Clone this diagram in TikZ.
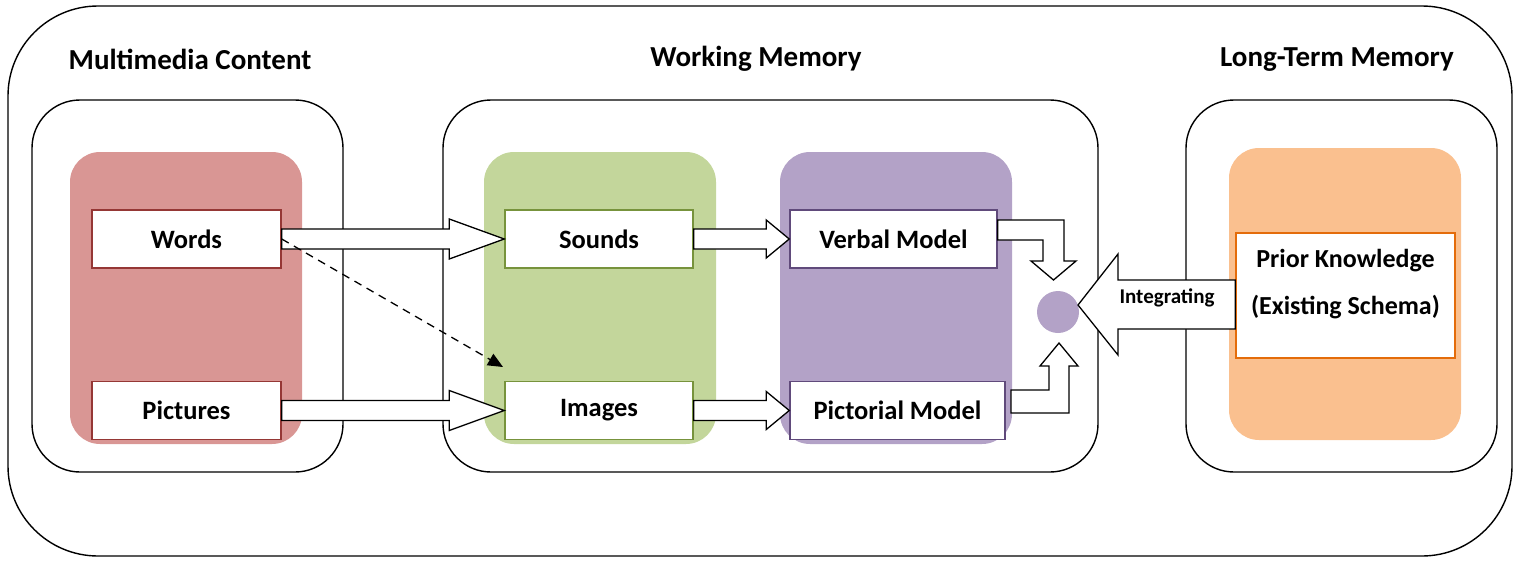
\documentclass[tikz,border=0pt]{standalone}
\usepackage{fontspec}
\setmainfont{Carlito}
\usetikzlibrary{calc,arrows.meta}
\definecolor{redfill}{HTML}{D99694}
\definecolor{redline}{HTML}{953735}
\definecolor{greenfill}{HTML}{C3D69B}
\definecolor{greenline}{HTML}{77933C}
\definecolor{purplefill}{HTML}{B3A2C7}
\definecolor{purpleline}{HTML}{604A7B}
\definecolor{orangefill}{HTML}{FAC08F}
\definecolor{orangeline}{HTML}{E46C0A}
\tikzset{
  container/.style={draw=black, line width=1.4pt, rounded corners=48pt, inner sep=0pt},
  panel/.style={draw=none, rounded corners=30pt, inner sep=0pt, minimum width=232pt, minimum height=292pt},
  wbox/.style={draw, fill=white, line width=1.5pt, inner sep=0pt, minimum height=58pt,
    font=\bfseries\fontsize{26.5}{30}\selectfont},
  title/.style={font=\bfseries\fontsize{29}{34}\selectfont, inner sep=0pt},
  lbl/.style={font=\bfseries\fontsize{26}{30}\selectfont, inner sep=0pt},
  blockarrow/.style={draw=black, fill=white, line width=1.3pt, line join=miter},
}
\begin{document}
\begin{tikzpicture}[x=1pt,y=-1pt]
\useasboundingbox (0,0) rectangle (1518,560);
% outer
\node[container, rounded corners=90pt, minimum width=1504pt, minimum height=550pt] (outer) at (760,281) {};
% containers
\node[container, minimum width=311pt, minimum height=372pt] (mm) at (187.5,286) {};
\node[container, minimum width=655pt, minimum height=372pt] (wm) at (770.5,286) {};
\node[container, minimum width=311pt, minimum height=372pt] (ltm) at (1341.5,286) {};
% titles
\node[title] (tmm) at (190,59) {Multimedia Content};
\node[title] (twm) at (756,59) {Working Memory};
\node[title] (tltm) at (1337,60) {Long-Term Memory};
% panels
\node[panel, fill=redfill] (pred) at (186,298) {};
\node[panel, fill=greenfill] (pgreen) at (600,298) {};
\node[panel, fill=purplefill] (ppurple) at (896,298) {};
\node[panel, fill=orangefill] (porange) at (1345,294) {};
% boxes
\node[wbox, draw=redline, minimum width=189pt] (words) at (186.5,239) {Words};
\node[wbox, draw=redline, minimum width=189pt] (pictures) at (186.5,410.5) {Pictures};
\node[wbox, draw=greenline, minimum width=188pt] (sounds) at (599,239) {Sounds};
\node[wbox, draw=greenline, minimum width=188pt] (images) at (599,410.5) {Images};
\node[wbox, draw=purpleline, minimum width=207pt] (verbal) at (893.5,239) {Verbal Model};
\node[wbox, draw=purpleline, minimum width=215pt] (pictorial) at (897.5,410.5) {Pictorial Model};
\node[wbox, draw=orangeline, minimum width=219pt, minimum height=125pt] (prior) at (1345.5,295.5) {};
\node[lbl] (prior1) at (1345.5,261) {Prior Knowledge};
\node[lbl] (prior2) at (1345.5,307) {(Existing Schema)};
% circle
\node[circle, fill=purplefill, minimum size=42pt, inner sep=0pt] (dot) at (1058,312) {};
% straight block arrows
\draw[blockarrow] ($(words.east)+(0,-10)$) -- ($(sounds.west)+(-55,-10)$) -- ($(sounds.west)+(-55,-20)$) -- (sounds.west)
  -- ($(sounds.west)+(-55,20)$) -- ($(sounds.west)+(-55,10)$) -- ($(words.east)+(0,10)$) -- cycle;
\draw[blockarrow] ($(pictures.east)+(0,-10)$) -- ($(images.west)+(-55,-10)$) -- ($(images.west)+(-55,-20)$) -- (images.west)
  -- ($(images.west)+(-55,20)$) -- ($(images.west)+(-55,10)$) -- ($(pictures.east)+(0,10)$) -- cycle;
\draw[blockarrow] ($(sounds.east)+(0,-10)$) -- ($(verbal.west)+(-23,-10)$) -- ($(verbal.west)+(-23,-19)$) -- (verbal.west)
  -- ($(verbal.west)+(-23,19)$) -- ($(verbal.west)+(-23,10)$) -- ($(sounds.east)+(0,10)$) -- cycle;
\draw[blockarrow] ($(images.east)+(0,-10)$) -- ($(pictorial.west)+(-23,-10)$) -- ($(pictorial.west)+(-23,-19)$) -- (pictorial.west)
  -- ($(pictorial.west)+(-23,19)$) -- ($(pictorial.west)+(-23,10)$) -- ($(images.east)+(0,10)$) -- cycle;
% bent arrows
\draw[blockarrow] (verbal.east |- 0,220) -- (1064,220) -- (1064,261) -- (1076,261) -- (1053.5,280) -- (1031,261)
  -- (1043,261) -- (1043,240) -- (verbal.east |- 0,240) -- cycle;
\draw[blockarrow] (1011,390) -- (1049,390) -- (1049,366) -- (1040,366) -- (1059,343) -- (1078,366)
  -- (1069,366) -- (1069,413) -- (1011,413) -- cycle;
% integrating arrow
\draw[blockarrow] (prior.west |- 0,280) -- (1118,280) -- (1118,254) -- (1078,305) -- (1118,355) -- (1118,329)
  -- (prior.west |- 0,329) -- cycle;
\node[font=\bfseries\fontsize{21}{25}\selectfont, inner sep=0pt] (integ) at (1167,298) {Integrating};
% dashed arrow
\coordinate (dend) at (503,367);
\draw[line width=1.3pt, dash pattern=on 8pt off 6pt, -{Triangle[length=15pt,width=13pt]}] (words.east) -- (dend);
\end{tikzpicture}
\end{document}
